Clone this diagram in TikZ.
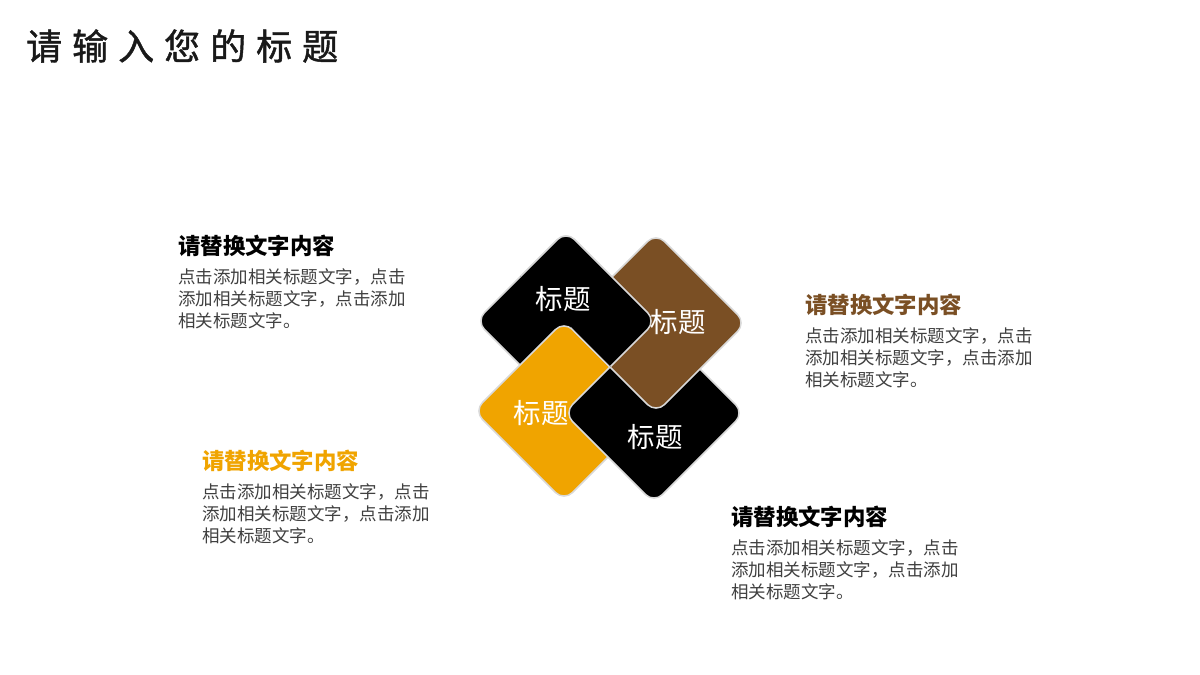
\documentclass[tikz,border=0pt]{standalone}
\usepackage{fontspec}
\newfontfamily\cjk{Noto Sans CJK SC}
\newfontfamily\cjktitle[FakeBold=1.2]{Noto Sans CJK SC}
\definecolor{brownc}{HTML}{7A4F24}
\definecolor{orangec}{HTML}{F0A400}
\definecolor{bodyc}{HTML}{404040}
\definecolor{edgec}{HTML}{D9D9D9}
\begin{document}
\begin{tikzpicture}[x=1pt,y=-1pt,
  tile/.style={rectangle, rotate=45, minimum width=127.3pt, minimum height=127.3pt,
    inner sep=0pt, rounded corners=12pt, draw=edgec, line width=1.5pt},
  tiletext/.style={font=\cjk\fontsize{27.5}{27.5}\selectfont, text=white, inner sep=0pt},
  head/.style={font=\cjk\bfseries\fontsize{22.4}{22.4}\selectfont, anchor=west, inner sep=0pt},
  body/.style={font=\cjk\fontsize{17.5}{17.5}\selectfont, text=bodyc, anchor=west, inner sep=0pt}]
\useasboundingbox (0,0) rectangle (1200,675);
\fill[white] (0,0) rectangle (1200,675);

% title
\node[anchor=west, inner sep=0pt, font=\cjktitle\fontsize{36}{36}\selectfont, text=black!90] (title) at (26,46)
  {请\hspace{10pt}输\hspace{10pt}入\hspace{10pt}您\hspace{10pt}的\hspace{10pt}标\hspace{10pt}题};

% woven tiles
\node[tile, fill=black] (t1) at (566,321) {};
\node[tile, fill=orangec] (t3) at (564,411) {};
\node[tile, fill=black] (t4) at (654,413) {};
\node[tile, fill=brownc] (t2) at (656,323) {};
\begin{scope}
  \clip (244,0) -- (1200,0) -- (1200,956) -- cycle;
  \node[tile, fill=black] (t1top) at (566,321) {};
\end{scope}

\node[tiletext] (l1) at (563,299) {标题};
\node[tiletext] (l2) at (678,322) {标题};
\node[tiletext] (l3) at (541,413) {标题};
\node[tiletext] (l4) at (655,437) {标题};

% block A
\node[head, text=black] (ha) at (178,246) {请替换文字内容};
\node[body] (a1) at (178,277) {点击添加相关标题文字，点击};
\node[body] (a2) at (178,299) {添加相关标题文字，点击添加};
\node[body] (a3) at (178,321) {相关标题文字。};

% block B
\node[head, text=brownc] (hb) at (805,305) {请替换文字内容};
\node[body] (b1) at (805,336) {点击添加相关标题文字，点击};
\node[body] (b2) at (805,358) {添加相关标题文字，点击添加};
\node[body] (b3) at (805,380) {相关标题文字。};

% block C
\node[head, text=orangec] (hc) at (202,461) {请替换文字内容};
\node[body] (c1) at (202,492) {点击添加相关标题文字，点击};
\node[body] (c2) at (202,514) {添加相关标题文字，点击添加};
\node[body] (c3) at (202,536) {相关标题文字。};

% block D
\node[head, text=black] (hd) at (731,517) {请替换文字内容};
\node[body] (d1) at (731,548) {点击添加相关标题文字，点击};
\node[body] (d2) at (731,570) {添加相关标题文字，点击添加};
\node[body] (d3) at (731,592) {相关标题文字。};
\end{tikzpicture}
\end{document}
